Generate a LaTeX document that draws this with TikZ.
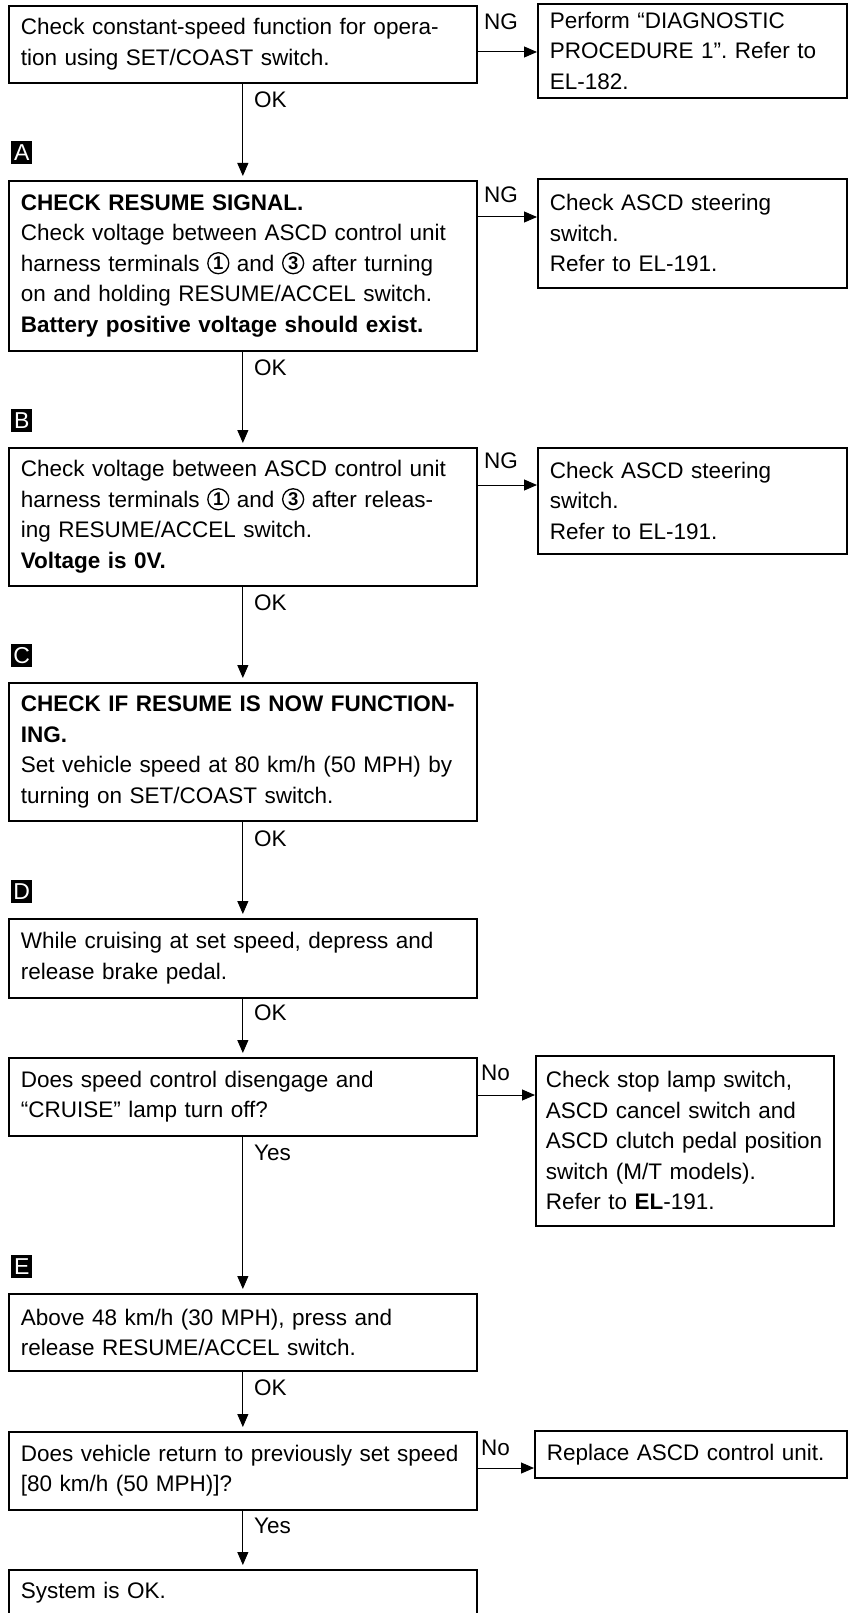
\documentclass[tikz,border=0pt]{standalone}
\usepackage{fontspec}
\setmainfont{Liberation Sans}
\usetikzlibrary{arrows.meta}
\newcommand\cnum[1]{\tikz[baseline=-0.36em]{\draw[line width=1.3pt] (0,0) circle (10.5pt); \pgftext{\fontsize{18.5}{18.5}\selectfont\bfseries #1}}}
\tikzset{
  box/.style={draw, line width=1.7pt, anchor=north west, align=left, inner xsep=12pt, inner ysep=0pt,
    font=\fontsize{22.5}{30.5}\selectfont\frenchspacing},
  lbl/.style={anchor=base west, inner sep=0pt, font=\fontsize{22.5}{23}\selectfont},
  conn/.style={line width=1pt, -{Triangle[width=11pt,length=13pt]}},
  tag/.style={fill=black, text=white, minimum width=21pt, minimum height=23pt, inner sep=0pt,
    anchor=north west, font=\fontsize{23}{23}\selectfont}
}
\begin{document}
\begin{tikzpicture}[x=1pt,y=-1pt]
\useasboundingbox (0,0) rectangle (848,1613);
% main column
\node[box, text width=444pt, minimum width=468pt, minimum height=77pt] (b1) at (8,5)
  {Check constant-speed function for opera-\\tion using SET/COAST switch.};
\node[box, text width=285pt, minimum width=309pt, minimum height=94pt] (r1) at (537,3)
  {Perform “DIAGNOSTIC\\PROCEDURE 1”. Refer to\\EL-182.};
\node[box, text width=444pt, minimum width=468pt, minimum height=170pt] (bA) at (8,180)
  {\textbf{CHECK RESUME SIGNAL.}\\Check voltage between ASCD control unit\\harness terminals \cnum{1} and \cnum{3} after turning\\on and holding RESUME/ACCEL switch.\\\textbf{Battery positive voltage should exist.}};
\node[box, text width=285pt, minimum width=309pt, minimum height=109pt] (rA) at (537,178)
  {Check ASCD steering\\switch.\\Refer to EL-191.};
\node[box, text width=444pt, minimum width=468pt, minimum height=138pt] (bB) at (8,447)
  {Check voltage between ASCD control unit\\harness terminals \cnum{1} and \cnum{3} after releas-\\ing RESUME/ACCEL switch.\\\textbf{Voltage is 0V.}};
\node[box, text width=285pt, minimum width=309pt, minimum height=106pt] (rB) at (537,447)
  {Check ASCD steering\\switch.\\Refer to EL-191.};
\node[box, text width=444pt, minimum width=468pt, minimum height=138pt] (bC) at (8,682)
  {\textbf{CHECK IF RESUME IS NOW FUNCTION-}\\\textbf{ING.}\\Set vehicle speed at 80 km/h (50 MPH) by\\turning on SET/COAST switch.};
\node[box, text width=444pt, minimum width=468pt, minimum height=79pt] (bD) at (8,918)
  {While cruising at set speed, depress and\\release brake pedal.};
\node[box, text width=444pt, minimum width=468pt, minimum height=78pt] (bQ1) at (8,1057)
  {Does speed control disengage and\\“CRUISE” lamp turn off?};
\node[box, inner xsep=10pt, text width=278pt, minimum width=298pt, minimum height=170pt] (rQ1) at (535,1055)
  {Check stop lamp switch,\\ASCD cancel switch and\\ASCD clutch pedal position\\switch (M/T models).\\Refer to \textbf{EL}-191.};
\node[box, text width=444pt, minimum width=468pt, minimum height=77pt] (bE) at (8,1293)
  {Above 48 km/h (30 MPH), press and\\release RESUME/ACCEL switch.};
\node[box, text width=444pt, minimum width=468pt, minimum height=78pt] (bQ2) at (8,1431)
  {Does vehicle return to previously set speed\\{[}80 km/h (50 MPH){]}?};
\node[box, text width=288pt, minimum width=312pt, minimum height=47pt] (rQ2) at (534,1430)
  {Replace ASCD control unit.};
\node[box, text width=444pt, minimum width=468pt, minimum height=46pt] (bF) at (8,1569)
  {System is OK.};
% tags
\node[tag] (tA) at (11,141) {A};
\node[tag] (tB) at (11,409) {B};
\node[tag] (tC) at (11,644) {C};
\node[tag] (tD) at (11,880) {D};
\node[tag] (tE) at (11,1255) {E};
% vertical connectors
\draw[conn, shorten >=4pt] (b1.south) -- (bA.north);
\draw[conn, shorten >=4pt] (bA.south) -- (bB.north);
\draw[conn, shorten >=4pt] (bB.south) -- (bC.north);
\draw[conn, shorten >=4pt] (bC.south) -- (bD.north);
\draw[conn, shorten >=4pt] (bD.south) -- (bQ1.north);
\draw[conn, shorten >=4pt] (bQ1.south) -- (bE.north);
\draw[conn, shorten >=4pt] (bE.south) -- (bQ2.north);
\draw[conn, shorten >=4pt] (bQ2.south) -- (bF.north);
% horizontal connectors
\draw[conn] (b1.east |- 0,52) -- (r1.west |- 0,52);
\draw[conn] (bA.east |- 0,217) -- (rA.west |- 0,217);
\draw[conn] (bB.east |- 0,485) -- (rB.west |- 0,485);
\draw[conn] (bQ1.east |- 0,1095) -- (rQ1.west |- 0,1095);
\draw[conn] (bQ2.east |- 0,1468) -- (rQ2.west |- 0,1468);
% labels
\node[lbl] (ng1) at (484,30) {NG};
\node[lbl] (ngA) at (484,203) {NG};
\node[lbl] (ngB) at (484,468) {NG};
\node[lbl] (no1) at (481,1080) {No};
\node[lbl] (no2) at (481,1455) {No};
\node[lbl] (ok1) at (254,108) {OK};
\node[lbl] (ok2) at (254,375) {OK};
\node[lbl] (ok3) at (254,610) {OK};
\node[lbl] (ok4) at (254,846) {OK};
\node[lbl] (ok5) at (254,1020) {OK};
\node[lbl] (ye1) at (254,1160) {Yes};
\node[lbl] (ok6) at (254,1395) {OK};
\node[lbl] (ye2) at (254,1533) {Yes};
\end{tikzpicture}
\end{document}
